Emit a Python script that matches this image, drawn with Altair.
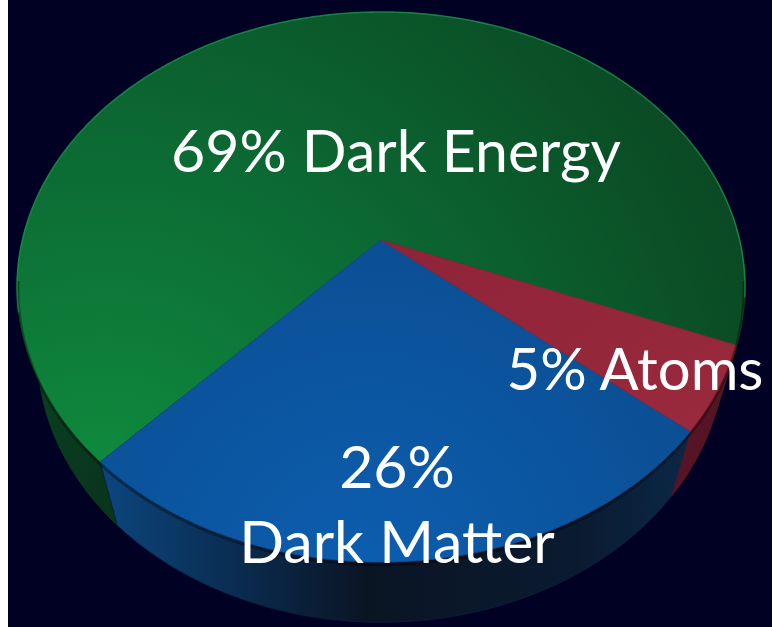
import numpy as np
import pandas as pd
import altair as alt

# Composition of the universe (percent)
CATEGORIES = ["Dark Energy", "Dark Matter", "Atoms"]
SHARES = [69, 26, 5]
LABEL_BREAK = [" ", "\n", " "]

# ---- page / scene layout -------------------------------------------------
PAGE_W, PAGE_H = 772, 627
LEFT_STRIP = 8                      # white margin on the left edge
APEX = (381, 240)                   # page position of the pie centre
# perspective camera looking down on a unit disc
PA, PB, PK = 358.6, 267.0, 0.171
SIN_P = PB / PA
COS_P = np.sqrt(1 - SIN_P ** 2)
CAM_L = COS_P / PK
CAM_H = CAM_L * SIN_P
CAM_D = CAM_L * COS_P
THICKNESS = 0.30                    # disc thickness (disc radius = 1)
START_DEG = -21.7                   # where the first slice begins
WALL_RANGE = (-185.0, 5.0)          # front-facing part of the rim


def project(X, Z, depth=0.0):
    den = 1 + depth * CAM_H / CAM_L ** 2 + PK * Z
    u = PA * X / den
    v = PB * (Z - depth * CAM_D / CAM_H) / den
    return u, v


def arc(a0, a1, depth=0.0):
    n = max(int(abs(a1 - a0) * 1.5), 4)
    t = np.radians(np.linspace(a0, a1, n))
    return project(np.cos(t), np.sin(t), depth)


rows = []


def add_piece(name, us, vs):
    for i, (u, v) in enumerate(zip(us, vs)):
        rows.append({"piece": name, "i": i, "x": float(u), "y": float(v)})


bounds = START_DEG + 360 * np.concatenate([[0], np.cumsum(SHARES)]) / sum(SHARES)
for cat, a0, a1 in zip(CATEGORIES, bounds[:-1], bounds[1:]):
    # top face sector
    u, v = arc(a0, a1)
    add_piece(f"{cat}|top", np.r_[0, u], np.r_[0, v])
    # rim wall segments that face the viewer
    j = 0
    for shift in (-360, 0, 360):
        lo = max(a0 + shift, WALL_RANGE[0])
        hi = min(a1 + shift, WALL_RANGE[1])
        if hi - lo > 0.01:
            ut, vt = arc(lo, hi)
            ub, vb = arc(hi, lo, THICKNESS)
            add_piece(f"{cat}|wall{j}", np.r_[ut, ub], np.r_[vt, vb])
            j += 1

# front crease of the top face (rounded bevel) and the back rim highlight
u, v = arc(-172, -8, 0.012)
add_piece("crease", u, v)
u, v = arc(-12, 195)
add_piece("sheen", u, v)

geom = pd.DataFrame(rows)

x_enc = alt.X("x:Q", axis=None,
              scale=alt.Scale(domain=[LEFT_STRIP - APEX[0], PAGE_W - APEX[0]],
                              nice=False, zero=False))
y_enc = alt.Y("y:Q", axis=None,
              scale=alt.Scale(domain=[APEX[1] - PAGE_H, APEX[1]],
                              nice=False, zero=False))


def stops(*pairs):
    return [alt.GradientStop(offset=o, color=c) for o, c in pairs]


def radial(cx, cy, r, *pairs):
    return alt.RadialGradient(gradient="radial", x1=cx, y1=cy, r1=0,
                              x2=cx, y2=cy, r2=r, stops=stops(*pairs))


def linear(x1, y1, x2, y2, *pairs):
    return alt.LinearGradient(gradient="linear", x1=x1, y1=y1, x2=x2, y2=y2,
                              stops=stops(*pairs))


# drawing order: rim walls first, then the top faces
FILLS = {
    "Dark Energy|wall0": (linear(0, 0, 1, 1, (0, "#0a4423"), (1, "#08341c")), "#093b1f"),
    "Dark Energy|wall1": (linear(0, 0, 1, 1, (0, "#0b4d27"), (1, "#093d20")), "#0a4524"),
    "Dark Matter|wall0": (linear(0, 0.5, 1, 0.5, (0, "#0c467e"), (0.22, "#0a2d52"),
                                 (0.45, "#0a1524"), (0.8, "#0a1a30"), (1, "#0b2846")),
                          "#0a1f38"),
    "Atoms|wall0": (linear(0, 0, 1, 1, (0, "#61172a"), (1, "#4a1220")), "#55152a"),
    "Dark Energy|top": (radial(0.12, 0.85, 1.0, (0, "#0f8c3e"), (0.45, "#0c6c34"),
                               (1, "#0a4522")), "#0b5a2d"),
    "Dark Matter|top": (radial(0.45, 0.8, 0.85, (0, "#0c5eaf"), (0.6, "#0b5198"),
                               (1, "#0a4683")), "#0b4f94"),
    "Atoms|top": (linear(0, 0, 1, 1, (0, "#8e2337"), (1, "#9a2a3e")), "#8f2538"),
}

layers = []
for piece, (fill, edge) in FILLS.items():
    layers.append(
        alt.Chart(geom)
        .transform_filter(alt.datum.piece == piece)
        .mark_line(fill=fill, stroke=edge, strokeWidth=0.8,
                   interpolate="linear-closed", clip=True)
        .encode(x=x_enc, y=y_enc, order=alt.Order("i:Q"))
    )

for piece, colour, opacity, width in [("crease", "#000000", 0.35, 3),
                                      ("sheen", "#1fa055", 0.6, 1.6)]:
    layers.append(
        alt.Chart(geom)
        .transform_filter(alt.datum.piece == piece)
        .mark_line(stroke=colour, strokeOpacity=opacity, strokeWidth=width, clip=True)
        .encode(x=x_enc, y=y_enc, order=alt.Order("i:Q"))
    )

# ---- labels ---------------------------------------------------------------
LABEL_AT = {"Dark Energy": (15, 68, 59), "Dark Matter": (16, -248, 59),
            "Atoms": (254, -150, 58)}
labels = pd.DataFrame({
    "text": [f"{s}%{sep}{c}" for c, s, sep in zip(CATEGORIES, SHARES, LABEL_BREAK)],
    "x": [LABEL_AT[c][0] for c in CATEGORIES],
    "y": [LABEL_AT[c][1] for c in CATEGORIES],
    "fs": [LABEL_AT[c][2] for c in CATEGORIES],
})
layers.append(
    alt.Chart(labels)
    .mark_text(font="Lato", color="#ffffff", align="center", baseline="alphabetic",
               lineBreak="\n", lineHeight=75)
    .encode(x=x_enc, y=y_enc, text="text:N", size=alt.Size("fs:Q", scale=None))
)

chart = (
    alt.layer(*layers)
    .properties(width=PAGE_W - LEFT_STRIP, height=PAGE_H,
                padding={"left": LEFT_STRIP, "top": 0, "right": 0, "bottom": 0},
                autosize=alt.AutoSizeParams(type="none"), background="#ffffff")
    .configure_view(fill="#010124", stroke=None)
)

chart.save("out.html", embed_options={"renderer": "svg", "actions": False})
